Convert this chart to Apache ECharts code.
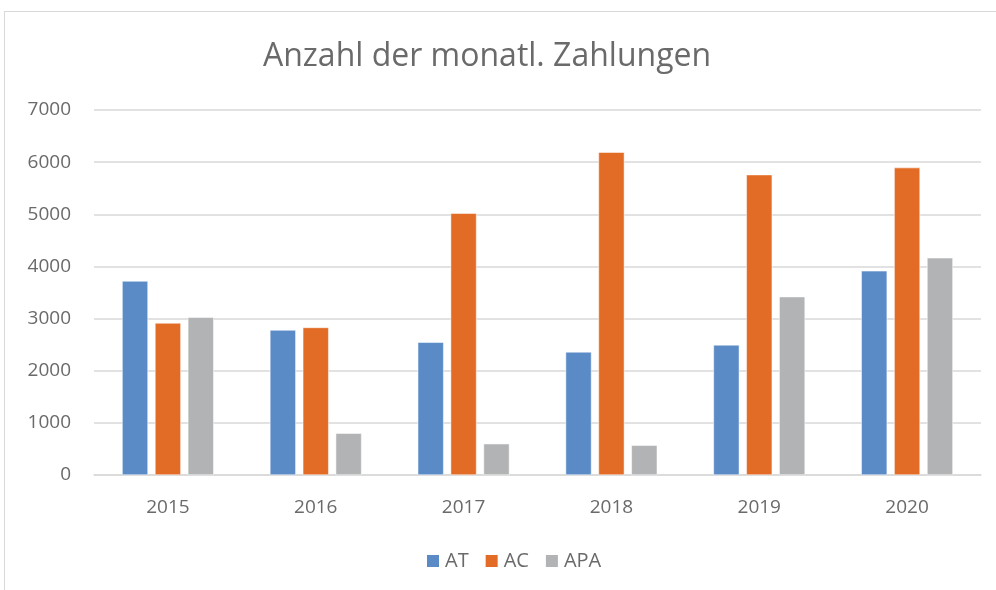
<!DOCTYPE html>
<html>
<head>
<meta charset="utf-8">
<script src="https://cdn.jsdelivr.net/npm/echarts@6/dist/echarts.min.js"></script>
<style>
  html, body { margin: 0; padding: 0; background: #fff; }
  #frame { position: absolute; left: 4px; top: 11px; width: 1000px; height: 600px; border: 1px solid #d9d9d9; box-sizing: border-box; }
  #chart { position: absolute; left: 0; top: 0; width: 996px; height: 590px; }
</style>
</head>
<body>
<div id="frame"></div>
<div id="chart"></div>
<script>
// Jahre und Werte
const years = ['2015', '2016', '2017', '2018', '2019', '2020'];
const atValues = [3720, 2780, 2545, 2360, 2495, 3915];
const acValues = [2915, 2830, 5020, 6190, 5760, 5895];
const apaValues = [3025, 800, 600, 570, 3420, 4165];
const yTicks = { min: 0, max: 7000, interval: 1000 };

const chart = echarts.init(document.getElementById('chart'));
const font = 'Open Sans';
const textColor = '#6a6a6a';

function barSeries(name, data, color) {
  return {
    name: name,
    type: 'bar',
    data: data,
    barGap: '27%',
    barCategoryGap: '38%',
    itemStyle: { color: color, borderColor: '#fff', borderWidth: 0.5 }
  };
}

chart.setOption({
  backgroundColor: 'transparent',
  animation: false,
  title: {
    text: 'Anzahl der monatl. Zahlungen',
    left: 258,
    top: 36,
    textStyle: { fontFamily: font, fontSize: 32, fontWeight: 'normal', color: textColor }
  },
  legend: {
    top: 546,
    left: 420,
    icon: 'rect',
    itemWidth: 14,
    itemHeight: 14,
    itemGap: 15,
    textStyle: { fontFamily: font, fontSize: 20, color: textColor },
    data: ['AT', 'AC', 'APA']
  },
  grid: { left: 94, right: 15, top: 110, bottom: 115 },
  xAxis: {
    type: 'category',
    data: years,
    axisLine: { lineStyle: { color: '#d9d9d9', width: 1.5 } },
    axisTick: { show: false },
    axisLabel: { fontFamily: font, fontSize: 19, color: textColor, margin: 23 }
  },
  yAxis: {
    type: 'value',
    min: yTicks.min,
    max: yTicks.max,
    interval: yTicks.interval,
    axisLine: { show: false },
    axisTick: { show: false },
    splitLine: { lineStyle: { color: '#d9d9d9', width: 1.5 } },
    axisLabel: { fontFamily: font, fontSize: 19, color: textColor, margin: 23, formatter: v => String(v) }
  },
  series: [
    barSeries('AT', atValues, '#5a8bc7'),
    barSeries('AC', acValues, '#e26c26'),
    barSeries('APA', apaValues, '#b2b3b4')
  ]
});
</script>
</body>
</html>
